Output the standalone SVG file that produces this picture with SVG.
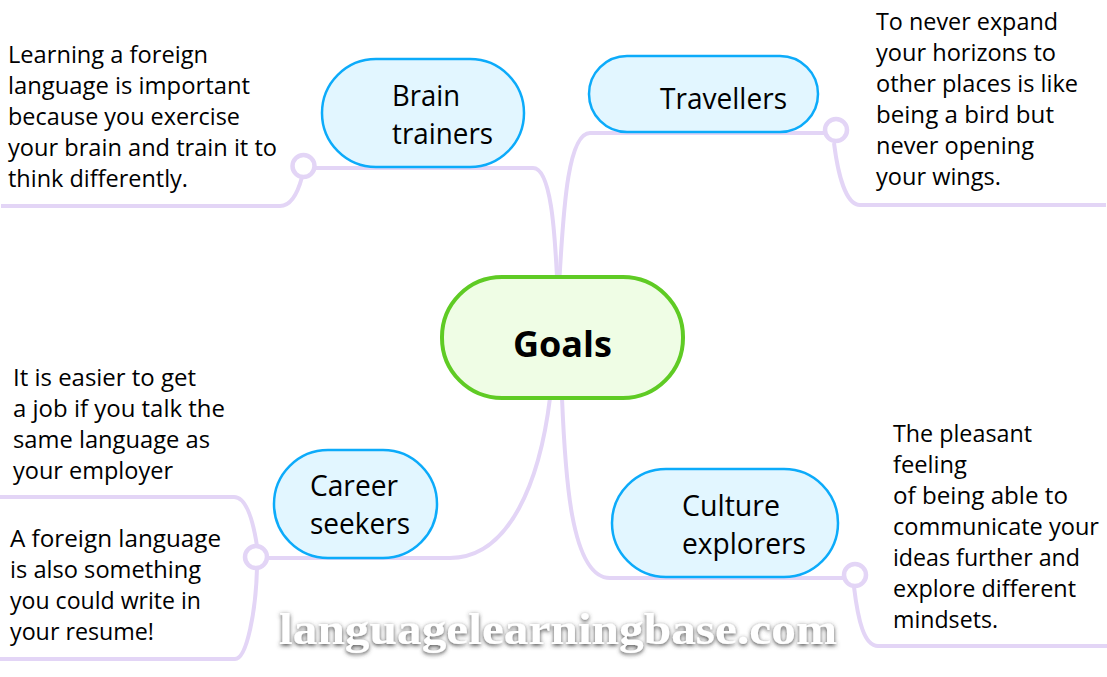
<svg xmlns="http://www.w3.org/2000/svg" width="1107" height="677" viewBox="0 0 1107 677">
<style>
text{font-family:"Open Sans","Noto Sans",sans-serif;fill:#000}
.n{font-size:23.5px}
.t{font-size:30px}
.c{fill:none;stroke:#e3d5f6;stroke-width:4}
.d{fill:#fff;stroke:#e3d5f6;stroke-width:4.5}
.b{fill:#e2f6ff;stroke:#0cabfa;stroke-width:2.5}
.w{font-family:"Liberation Serif",serif;font-weight:bold;font-size:44px;fill:#fff;filter:url(#s)}
</style>
<defs><filter id="s" x="-5%" y="-30%" width="110%" height="160%"><feDropShadow dx="0" dy="1.5" stdDeviation="2" flood-color="#444"/></filter></defs>
<rect width="1107" height="677" fill="#fff"/>
<g id="connectors">
<path class="c" d="M557 277C555 240 552 168 533 168H315"/>
<path class="c" d="M302 177C298 192 292 206 280 206H1"/>
<path class="c" d="M559.5 277C563 225 566 133 590 133H825"/>
<path class="c" d="M834 143C838 175 846 205 860 205H1106"/>
<path class="c" d="M550 398C540 480 510 558 450 558H267"/>
<path class="c" d="M257 546C253 520 246 497 234 497H0"/>
<path class="c" d="M257 568C256 610 247 659 235 659H0"/>
<path class="c" d="M562 398C565 470 570 578 610 578H844"/>
<path class="c" d="M854 587C858 620 864 646 878 646H1107"/>
</g>
<g id="goals"><rect x="442" y="277" width="241" height="121" rx="60" fill="#effde5" stroke="#5fcb24" stroke-width="4"/><text x="513" y="357" textLength="99" lengthAdjust="spacingAndGlyphs" style="font-size:36px;font-weight:700">Goals</text></g>
<g id="brain-trainers"><rect class="b" x="322" y="59" width="202" height="108" rx="54"/><text class="t" x="392" y="106" textLength="68" lengthAdjust="spacingAndGlyphs">Brain</text><text class="t" x="392" y="144" textLength="101" lengthAdjust="spacingAndGlyphs">trainers</text></g>
<g id="travellers"><rect class="b" x="589" y="56" width="229" height="76" rx="38"/><text class="t" x="660" y="109" textLength="127" lengthAdjust="spacingAndGlyphs">Travellers</text></g>
<g id="career-seekers"><rect class="b" x="274" y="450" width="163" height="108" rx="54"/><text class="t" x="310" y="496" textLength="88" lengthAdjust="spacingAndGlyphs">Career</text><text class="t" x="310" y="534" textLength="100" lengthAdjust="spacingAndGlyphs">seekers</text></g>
<g id="culture-explorers"><rect class="b" x="612" y="469" width="226" height="108" rx="54"/><text class="t" x="682" y="516" textLength="98" lengthAdjust="spacingAndGlyphs">Culture</text><text class="t" x="682" y="554" textLength="124" lengthAdjust="spacingAndGlyphs">explorers</text></g>
<g id="dots"><circle class="d" cx="303.5" cy="166" r="11"/><circle class="d" cx="836" cy="130" r="11"/><circle class="d" cx="256" cy="557" r="11"/><circle class="d" cx="855" cy="575" r="11"/></g>
<g id="note-brain" class="n"><text x="8" y="63" textLength="200" lengthAdjust="spacingAndGlyphs">Learning a foreign</text><text x="8" y="94" textLength="242" lengthAdjust="spacingAndGlyphs">language is important</text><text x="8" y="125" textLength="232" lengthAdjust="spacingAndGlyphs">because you exercise</text><text x="8" y="156" textLength="269" lengthAdjust="spacingAndGlyphs">your brain and train it to</text><text x="8" y="187" textLength="180" lengthAdjust="spacingAndGlyphs">think differently.</text></g>
<g id="note-travellers" class="n"><text x="876" y="30" textLength="182" lengthAdjust="spacingAndGlyphs">To never expand</text><text x="876" y="61" textLength="180" lengthAdjust="spacingAndGlyphs">your horizons to</text><text x="876" y="92" textLength="202" lengthAdjust="spacingAndGlyphs">other places is like</text><text x="876" y="123" textLength="178" lengthAdjust="spacingAndGlyphs">being a bird but</text><text x="876" y="154" textLength="158" lengthAdjust="spacingAndGlyphs">never opening</text><text x="876" y="185" textLength="125" lengthAdjust="spacingAndGlyphs">your wings.</text></g>
<g id="note-career" class="n"><text x="13" y="386" textLength="183" lengthAdjust="spacingAndGlyphs">It is easier to get</text><text x="13" y="417" textLength="212" lengthAdjust="spacingAndGlyphs">a job if you talk the</text><text x="13" y="448" textLength="197" lengthAdjust="spacingAndGlyphs">same language as</text><text x="13" y="479" textLength="160" lengthAdjust="spacingAndGlyphs">your employer</text></g>
<g id="note-resume" class="n"><text x="10" y="547" textLength="211" lengthAdjust="spacingAndGlyphs">A foreign language</text><text x="10" y="578" textLength="191" lengthAdjust="spacingAndGlyphs">is also something</text><text x="10" y="609" textLength="191" lengthAdjust="spacingAndGlyphs">you could write in</text><text x="10" y="640" textLength="144" lengthAdjust="spacingAndGlyphs">your resume!</text></g>
<g id="note-culture" class="n"><text x="893" y="442" textLength="139" lengthAdjust="spacingAndGlyphs">The pleasant</text><text x="893" y="473" textLength="74" lengthAdjust="spacingAndGlyphs">feeling</text><text x="893" y="504" textLength="175" lengthAdjust="spacingAndGlyphs">of being able to</text><text x="893" y="535" textLength="206" lengthAdjust="spacingAndGlyphs">communicate your</text><text x="893" y="566" textLength="187" lengthAdjust="spacingAndGlyphs">ideas further and</text><text x="893" y="597" textLength="183" lengthAdjust="spacingAndGlyphs">explore different</text><text x="893" y="628" textLength="105" lengthAdjust="spacingAndGlyphs">mindsets.</text></g>
<text class="w" x="279" y="644" textLength="558" lengthAdjust="spacingAndGlyphs">languagelearningbase.com</text>
</svg>
